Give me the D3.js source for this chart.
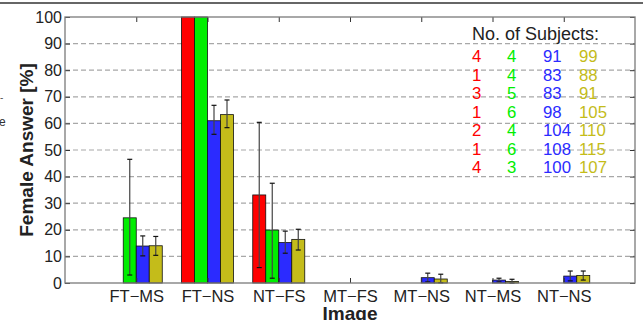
<!DOCTYPE html>
<html>
<head>
<meta charset="utf-8">
<script src="https://cdn.jsdelivr.net/npm/d3@7"></script>
<style>
  body { margin: 0; background: #fff; }
  svg { display: block; font-family: "Liberation Sans", Arial, sans-serif; }
</style>
</head>
<body>
<svg width="643" height="320"></svg>
<script>
const svg = d3.select("svg");

// categories and series
const categories = ["FT\u2212MS", "FT\u2212NS", "NT\u2212FS", "MT\u2212FS", "MT\u2212NS", "NT\u2212MS", "NT\u2212NS"];
const seriesColors = ["#ff0000", "#00ee00", "#2b2bff", "#c4bc1a"];

// bar heights (%) per series
const redVals    = [0, 100, 33.1, 0, 0, 0, 0];
const greenVals  = [24.5, 100, 19.9, 0, 0, 0, 0];
const blueVals   = [13.9, 61, 15.2, 0, 2, 1.1, 2.6];
const yellowVals = [14, 63.3, 16.4, 0, 1.5, 0.6, 2.8];

// error bar bounds (null = none)
const redLo    = [null, null, 5.8, null, null, null, null];
const redHi    = [null, null, 60.4, null, null, null, null];
const greenLo  = [3, null, 1.8, null, null, null, null];
const greenHi  = [46.5, null, 37.5, null, null, null, null];
const blueLo   = [10.2, 55.9, 11.2, null, 0.4, 0.4, 0.8];
const blueHi   = [17.7, 66.8, 19.5, null, 3.7, 1.8, 4.5];
const yellowLo = [10.4, 58.4, 12.4, null, 0.1, 0, 1.1];
const yellowHi = [17.5, 68.8, 20.2, null, 3.3, 1.4, 4.5];

// subject counts table
const redN    = [4, 1, 3, 1, 2, 1, 4];
const greenN  = [4, 4, 5, 6, 4, 6, 3];
const blueN   = [91, 83, 83, 98, 104, 108, 100];
const yellowN = [99, 88, 91, 105, 110, 115, 107];

const yTicks = d3.range(0, 101, 10);

const series = [
  { vals: redVals, lo: redLo, hi: redHi },
  { vals: greenVals, lo: greenLo, hi: greenHi },
  { vals: blueVals, lo: blueLo, hi: blueHi },
  { vals: yellowVals, lo: yellowLo, hi: yellowHi }
];

const L = 65, R = 635, T = 17, B = 283;

const x = d3.scaleLinear().domain([0, categories.length + 1]).range([L, R]);
const y = d3.scaleLinear().domain([0, 100]).range([B, T]);
const barW = 0.1825; // in category units

// top border line of the figure strip
svg.append("line")
  .attr("x1", 0).attr("x2", 643).attr("y1", 3).attr("y2", 3)
  .attr("stroke", "#333").attr("stroke-width", 1.5);

// fragments of a neighbouring figure
svg.append("text").attr("x", 0).attr("y", 101).attr("font-size", 10).attr("fill", "#555").text("-");
svg.append("text").attr("x", -1).attr("y", 126).attr("font-size", 12).attr("fill", "#333").text("e");

// grid lines
svg.append("g").selectAll("line")
  .data(yTicks.filter(d => d > 0 && d < 100))
  .enter().append("line")
  .attr("x1", L).attr("x2", R)
  .attr("y1", d => y(d)).attr("y2", d => y(d))
  .attr("stroke", "#a8a8a8")
  .attr("stroke-width", 1.2)
  .attr("stroke-dasharray", "5 3");

// bars
const gBars = svg.append("g");
series.forEach((s, si) => {
  const off = (si - 1.5) * barW;
  categories.forEach((c, ci) => {
    const v = s.vals[ci];
    if (v <= 0) return;
    gBars.append("rect")
      .attr("x", x(ci + 1 + off - barW / 2))
      .attr("width", x(barW) - x(0))
      .attr("y", y(v))
      .attr("height", y(0) - y(v))
      .attr("fill", seriesColors[si])
      .attr("stroke", "#111")
      .attr("stroke-width", 0.8);
  });
});

// error bars
const gErr = svg.append("g");
series.forEach((s, si) => {
  const off = (si - 1.5) * barW;
  categories.forEach((c, ci) => {
    if (s.lo[ci] == null) return;
    const cx = x(ci + 1 + off);
    gErr.append("line")
      .attr("x1", cx).attr("x2", cx)
      .attr("y1", y(s.lo[ci])).attr("y2", y(s.hi[ci]))
      .attr("stroke", "#444").attr("stroke-width", 1.2);
    [s.lo[ci], s.hi[ci]].forEach(e => {
      gErr.append("line")
        .attr("x1", cx - 2.5).attr("x2", cx + 2.5)
        .attr("y1", y(e)).attr("y2", y(e))
        .attr("stroke", "#111").attr("stroke-width", 1.2);
    });
  });
});

// axes
const xTickVals = d3.range(1, categories.length + 1);
const axisColor = "#7a7a7a";

const yAxis = svg.append("g")
  .attr("transform", `translate(${L},0)`)
  .call(d3.axisLeft(y).tickValues(yTicks).tickSizeInner(-5).tickSizeOuter(0).tickPadding(3));
yAxis.selectAll("text").attr("font-size", 16).attr("fill", "#222")
  .attr("font-family", "Liberation Sans, Arial, sans-serif");

svg.append("g")
  .attr("transform", `translate(${R},0)`)
  .call(d3.axisRight(y).tickValues(yTicks).tickSizeInner(-5).tickSizeOuter(0).tickFormat(""));

const xAxis = svg.append("g")
  .attr("transform", `translate(0,${B})`)
  .call(d3.axisBottom(x).tickValues(xTickVals).tickSizeInner(-5).tickSizeOuter(0)
    .tickPadding(7).tickFormat(d => categories[d - 1]));
xAxis.selectAll("text").attr("font-size", 16.5).attr("fill", "#222")
  .attr("font-family", "Liberation Sans, Arial, sans-serif");

svg.append("g")
  .attr("transform", `translate(0,${T})`)
  .call(d3.axisTop(x).tickValues(xTickVals).tickSizeInner(-5).tickSizeOuter(0).tickFormat(""));

svg.selectAll(".domain").remove();
svg.selectAll(".tick line").attr("stroke", "#333");

// box
svg.append("rect")
  .attr("x", L).attr("y", T).attr("width", R - L).attr("height", B - T)
  .attr("fill", "none").attr("stroke", axisColor).attr("stroke-width", 1.3);

// axis titles
svg.append("text")
  .attr("transform", `translate(33,${(T + B) / 2}) rotate(-90)`)
  .attr("text-anchor", "middle")
  .attr("font-size", 19).attr("font-weight", "bold").attr("fill", "#222")
  .text("Female Answer [%]");

svg.append("text")
  .attr("x", x(4)).attr("y", 319.5)
  .attr("text-anchor", "middle")
  .attr("font-size", 19).attr("font-weight", "bold").attr("fill", "#222")
  .text("Image");

// subject counts
svg.append("text")
  .attr("x", 472).attr("y", 39.5)
  .attr("font-size", 18).attr("fill", "#222")
  .text("No. of Subjects:");

const colX = [472, 507, 543, 579];
const cols = [redN, greenN, blueN, yellowN];
const rowY = d3.scaleLinear().domain([0, 6]).range([62, 173]);
cols.forEach((col, si) => {
  svg.append("g").selectAll("text")
    .data(col)
    .enter().append("text")
    .attr("x", colX[si])
    .attr("y", (d, i) => rowY(i))
    .attr("font-size", 16.8)
    .attr("fill", seriesColors[si])
    .text(d => d);
});
</script>
</body>
</html>
